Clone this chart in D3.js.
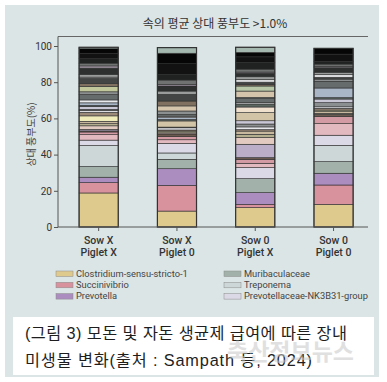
<!DOCTYPE html>
<html><head><meta charset="utf-8">
<script src="https://cdn.jsdelivr.net/npm/d3@7"></script>
<style>
html,body{margin:0;padding:0;background:#fff;}
svg{display:block;}
</style></head>
<body>
<svg id="c" width="387" height="382"></svg>
<script>
// ---- data ----
const sowLabels = ["Sow X", "Sow X", "Sow 0", "Sow 0"];
const pigletLabels = ["Piglet X", "Piglet 0", "Piglet X", "Piglet 0"];
const samples = ["SowX_PigletX", "SowX_Piglet0", "Sow0_PigletX", "Sow0_Piglet0"];

const legendGenera = ["Clostridium-sensu-stricto-1", "Succinivibrio", "Prevotella",
  "Muribaculaceae", "Treponema", "Prevotellaceae-NK3B31-group"];
const minorGenera = ["g07","g08","g09","g10","g11","g12","g13","g14","g15","g16","g17",
  "g18","g19","g20","g21","g22","g23","g24","g25","g26","g27","g28","g29","g30","g31",
  "g32","g33","g34","g35","g36","g37","g38","g39"];
const genera = legendGenera.concat(minorGenera);

const legendColors = ["#dfca8e", "#d8929e", "#ab8dbf", "#a2b2aa", "#cdd7d7", "#dcd9e6"];
const minorColors = ["#e3b9c0","#d39ba4","#6b5a50","#bbaec9","#e2cac0","#b5ae8e","#c8b89e",
  "#efecb9","#9b8a78","#e4e6ea","#8b8f90","#c9c6d6","#d2c4a6","#efdfcd","#5c6761","#a9b6c6",
  "#e8eaec","#666b6b","#8d9090","#d4c4ac","#b7c7a7","#c2c69b","#7f705f","#434545","#d8dadc",
  "#9a9c9c","#2e3030","#a69aa8","#707272","#202222","#121212","#060606","#a4b8b0"];

// relative abundance (%) per genus, bottom to top
const sowXPigletX = [18.8,5.7,3.0,5.9,11.6,3.0,
  3.0,1.5,0.6,0.8,2.0,1.2,1.3,3.0,2.0,1.0,0.6,1.6,0,0,0.6,1.4,1.6,3.0,1.5,0,0,3.0,1.5,3.0,0.6,1.5,3.5,1.2,1.5,2.5,3.0,2.5,0.8];
const sowXPiglet0 = [8.8,14.2,9.2,5.2,3.5,5.3,
  2.0,1.8,1.4,0,0.6,1.0,0,0,0.6,1.2,0.4,0,3.4,0,0.8,1.0,0.8,1.0,1.9,2.8,0,0,2.7,3.7,0,1.8,2.8,0.8,2.5,3.0,6.0,5.8,3.1];
const sow0PigletX = [10.7,1.8,6.5,7.7,0,6.1,
  2.4,2.2,0.9,7.4,3.7,1.8,1.8,0,0.8,1.5,1.6,1.8,4.5,3.1,1.7,0,0.8,2.2,0.6,3.5,2.8,0,0.8,1.3,1.4,1.6,2.0,0.6,1.6,3.8,3.0,2.5,2.8];
const sow0Piglet0 = [12.5,10.7,6.5,6.4,9.0,5.6,
  6.4,3.9,1.2,0,0,0.6,1.2,0.6,1.0,0.8,2.3,2.0,0,0,0.8,5.3,0,3.7,1.2,0,0,0,0,1.0,1.5,1.3,2.5,0.8,1.2,1.5,4.0,3.2,0];

const yTicks = [0, 20, 40, 60, 80, 100];

// ---- build ----
const seriesValues = [sowXPigletX, sowXPiglet0, sow0PigletX, sow0Piglet0];
const rows = samples.map((s, i) => {
  const r = { sample: s };
  genera.forEach((g, j) => r[g] = seriesValues[i][j]);
  return r;
});
const color = d3.scaleOrdinal().domain(genera).range(legendColors.concat(minorColors));

const svg = d3.select("#c");
// background panel
svg.append("rect").attr("x", 5).attr("y", 5).attr("width", 374).attr("height", 372).attr("fill", "#dbe5e5");

const x = d3.scaleBand().domain(samples).range([59.5, 372.7]).paddingInner(0.5).paddingOuter(0.25);
const y = d3.scaleLinear().domain([0, 100]).range([227, 46]);

// title
svg.append("text").attr("x", 215).attr("y", 28).attr("text-anchor", "middle")
  .attr("font-family", "'Noto Sans CJK KR', sans-serif").attr("font-size", 12)
  .attr("fill", "#333").text("속의 평균 상대 풍부도 >1.0%");
svg.append("line").attr("x1", 58).attr("x2", 368).attr("y1", 36.5).attr("y2", 36.5)
  .attr("stroke", "#666").attr("stroke-width", 1);

// stacks
const stack = d3.stack().keys(genera)(rows);
const barG = svg.append("g");
barG.selectAll("g").data(stack).join("g").attr("fill", d => color(d.key))
  .selectAll("rect").data(d => d.filter(p => p[1] - p[0] > 0)).join("rect")
  .attr("x", d => x(d.data.sample))
  .attr("width", x.bandwidth())
  .attr("y", d => y(d[1]))
  .attr("height", d => y(d[0]) - y(d[1]))
  .attr("stroke", "#2f2f2f").attr("stroke-width", 0.6);
// outline
svg.append("g").selectAll("rect").data(rows).join("rect")
  .attr("x", d => x(d.sample)).attr("width", x.bandwidth())
  .attr("y", d => y(d3.sum(genera, g => d[g])))
  .attr("height", d => y(0) - y(d3.sum(genera, g => d[g])))
  .attr("fill", "none").attr("stroke", "#333").attr("stroke-width", 1.2);

// y axis
const yAxis = svg.append("g").attr("transform", "translate(58,0)")
  .call(d3.axisLeft(y).tickValues(yTicks).tickSize(4).tickPadding(2));
yAxis.select(".domain").attr("d", `M0,${y(0)}V36.5`).attr("stroke", "#555");
yAxis.selectAll(".tick line").attr("stroke", "#555");
yAxis.selectAll("text").attr("font-family", "Roboto, sans-serif").attr("font-size", 10).attr("fill", "#333");

svg.append("text").attr("transform", `translate(35,${(y(0) + y(100)) / 2 - 2}) rotate(-90)`)
  .attr("text-anchor", "middle").attr("font-family", "'Noto Sans CJK KR', sans-serif")
  .attr("font-size", 10).attr("fill", "#444").text("상대 풍부도(%)");

// x axis
const xAxis = svg.append("g").attr("transform", `translate(0,${y(0)})`)
  .call(d3.axisBottom(x).tickSize(4).tickFormat(""));
xAxis.select(".domain").attr("d", "M58,0H368").attr("stroke", "#555");
xAxis.selectAll(".tick line").attr("stroke", "#555");
const xl = svg.append("g").attr("font-family", "Roboto, sans-serif").attr("font-size", 10.5)
  .attr("font-weight", 500).attr("fill", "#333").attr("text-anchor", "middle");
samples.forEach((s, i) => {
  const cx = x(s) + x.bandwidth() / 2;
  xl.append("text").attr("x", cx).attr("y", 244).text(sowLabels[i]);
  xl.append("text").attr("x", cx).attr("y", 256).text(pigletLabels[i]);
});

// legend
const legend = svg.append("g").attr("font-family", "Roboto, sans-serif").attr("font-size", 9.3).attr("fill", "#444");
legendGenera.forEach((g, i) => {
  const col = Math.floor(i / 3), row = i % 3;
  const lx = col === 0 ? 56 : 224;
  const ly = 274 + row * 11.3;
  legend.append("rect").attr("x", lx).attr("y", ly - 3).attr("width", 17).attr("height", 5.5)
    .attr("fill", color(g)).attr("stroke", "#8a8a8a").attr("stroke-width", 0.5);
  legend.append("text").attr("x", lx + 20).attr("y", ly + 2.8).text(g);
});

// caption box
svg.append("rect").attr("x", 13).attr("y", 317).attr("width", 361).attr("height", 58).attr("fill", "#fff");
const cap = svg.append("g").attr("font-family", "'Liberation Sans', 'Noto Sans CJK KR', sans-serif")
  .attr("font-size", 16.3).attr("fill", "#1e1e1e");
cap.append("text").attr("x", 25).attr("y", 339).attr("textLength", 322).attr("lengthAdjust", "spacing")
  .text("(그림 3) 모돈 및 자돈 생균제 급여에 따른 장내");
cap.append("text").attr("x", 25).attr("y", 366).attr("textLength", 287).attr("lengthAdjust", "spacing")
  .text("미생물 변화(출처 : Sampath 등, 2024)");
svg.append("text").attr("x", 227).attr("y", 360).attr("font-family", "'Noto Sans CJK KR', sans-serif")
  .attr("font-size", 23).attr("font-weight", "bold").attr("fill", "#c8c8c8").attr("opacity", 0.55)
  .text("축산정보뉴스");
</script>
</body></html>
